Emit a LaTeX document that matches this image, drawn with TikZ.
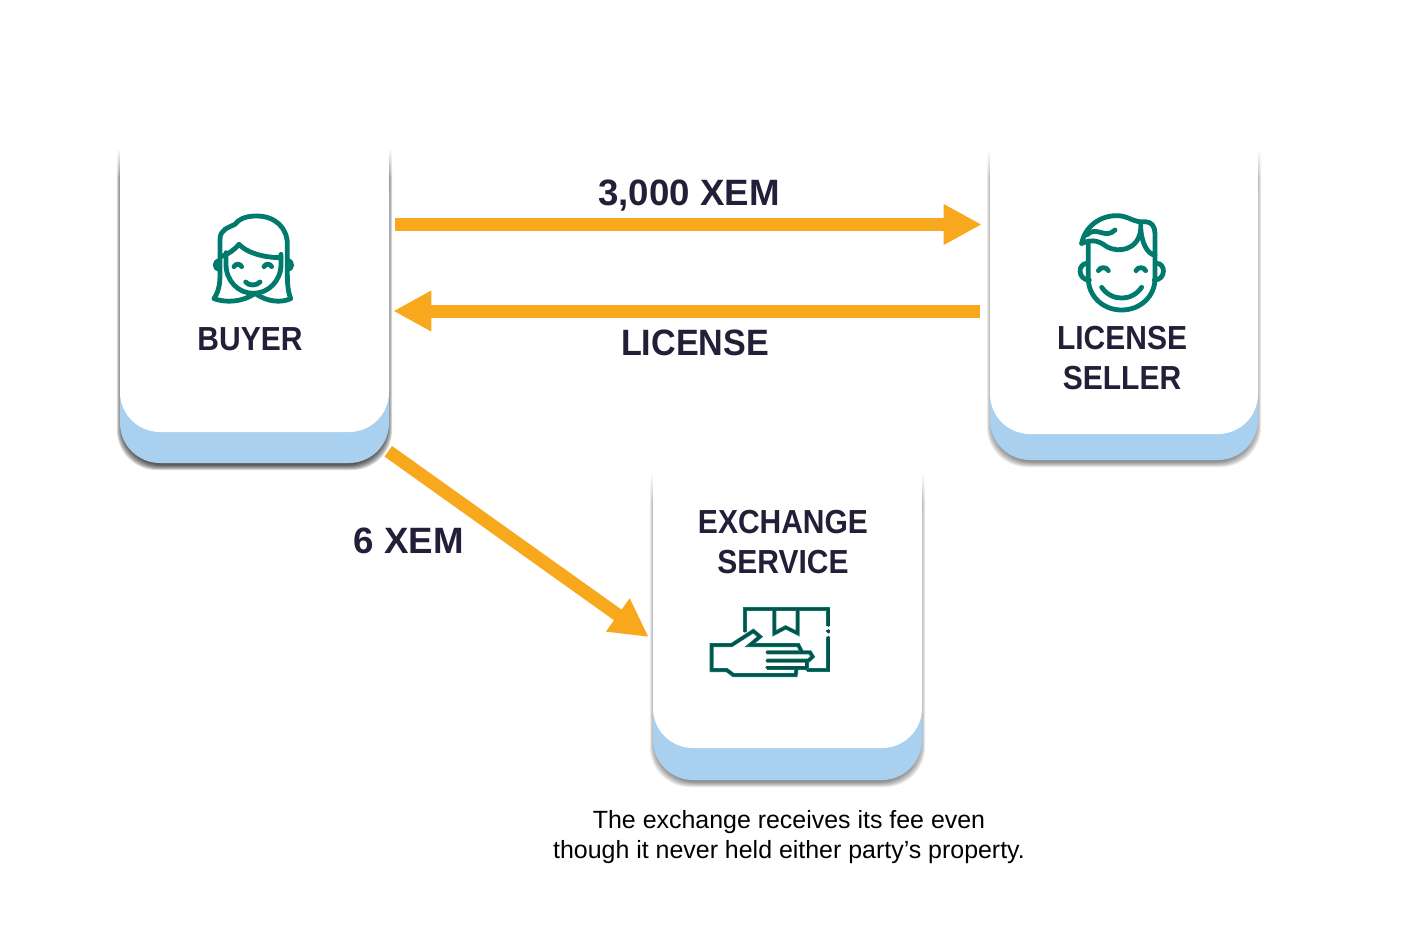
\documentclass[tikz,border=0pt]{standalone}
\usepackage{fontspec}
\setmainfont{Liberation Sans}
\newfontfamily\titlefont[FakeStretch=0.9]{Liberation Sans}
\newfontfamily\licensefont[FakeStretch=0.93]{Liberation Sans}
\usetikzlibrary{arrows.meta,fadings}

\definecolor{inkdark}{HTML}{221F38}
\definecolor{iconteal}{HTML}{007A6C}
\definecolor{icondark}{HTML}{0B4F4A}
\definecolor{flowgold}{HTML}{F7A81C}
\definecolor{cardblue}{HTML}{A9D0EE}

\tikzset{
    x=0.75pt, y=-0.75pt,
    cardbox/.style={fill=white,inner sep=0pt,rounded corners=30pt},
    title/.style={text=inkdark,font=\titlefont\bfseries\fontsize{25}{30}\selectfont,align=center,inner sep=0pt},
    flowlabel/.style={text=inkdark,font=\bfseries\fontsize{27.5}{33}\selectfont,inner sep=0pt},
    flowarrow/.style={flowgold,line width=9.75pt,-{Triangle[length=28.5pt,width=28.5pt]}},
    iconline/.style={iconteal,line width=3.6pt,line cap=round,line join=round},
    boxline/.style={icondark,line width=1.8pt,line cap=round,line join=round,
        preaction={draw,iconteal,line width=3pt}},
}

\begin{document}
\begin{tikzpicture}
\useasboundingbox (0,0) rectangle (1402,939);

% cards
\foreach \cardname/\xa/\xb/\ya/\yb/\yc/\shade in {
    buyer/120/389/150/432/463/0.16,
    seller/990/1258/150/434/460/0.09,
    exchange/653/922/474/748/780/0.09} {
    \foreach \w in {1,2,...,6} {
        \fill[black,opacity=\shade,rounded corners=30pt]
            (\xa-\w+3,\ya) -- (\xa-\w+3,\yc+\w+1) -- (\xb+\w-3,\yc+\w+1) -- (\xb+\w-3,\ya);
    }
    \fill[cardblue,rounded corners=30pt] (\xa,\ya) -- (\xa,\yc) -- (\xb,\yc) -- (\xb,\ya);
    \node[cardbox,minimum width={(\xb-\xa)*0.75pt},minimum height={(\yb-\ya)*0.75pt}]
        (\cardname) at ({(\xa+\xb)/2},{(\ya+\yb)/2}) {};
    \fill[white] (\xa,\ya) rectangle (\xb,\ya+50);
    \fill[white,path fading=south] (\xa-12,\ya-2) rectangle (\xb+12,\ya+28);
}

% labels
\node[title] (buyertext) at (250,339) {BUYER};
\node[title] (sellertext) at (1122,358) {LICENSE\\SELLER};
\node[title] (exchangetext) at (783,542) {EXCHANGE\\SERVICE};

% arrows
\coordinate (payfrom) at ([shift={(6,-66.5)}]buyer.east);
\coordinate (payto) at ([shift={(-8,-67.5)}]seller.west);
\coordinate (licensefrom) at ([shift={(-10,19)}]seller.west);
\coordinate (licenseto) at ([shift={(4,20)}]buyer.east);
\coordinate (feefrom) at ([shift={(-1,19)}]buyer.south east);
\coordinate (feeto) at ([shift={(-4,26)}]exchange.west);

\draw[flowarrow] (payfrom) -- (payto);
\draw[flowarrow] (licensefrom) -- (licenseto);
\draw[flowarrow] (feefrom) -- (feeto);

\node[flowlabel] (paylabel) at (689,196) {3,000 XEM};
\node[flowlabel,font=\licensefont\bfseries\fontsize{27.5}{33}\selectfont] (licenselabel) at (695,343) {LICENSE};
\node[flowlabel] (feelabel) at (409,541) {6 XEM};

\node[align=center,inner sep=0pt,font=\fontsize{18.7}{22.5}\selectfont] (notetext) at (789,837)
    {The exchange receives its fee even\\though it never held either party’s property.};

% buyer icon
\begin{scope}[shift={(200,206)},scale=1/3]
\draw[iconline] (42,278) .. controls (60,250) and (60,225) .. (60,195) -- (60,100)
    .. controls (60,70) and (85,65) .. (105,55) .. controls (120,35) and (145,30) .. (170,30)
    .. controls (225,30) and (262,65) .. (262,115) -- (262,195)
    .. controls (262,225) and (262,250) .. (272,278)
    .. controls (245,290) and (205,290) .. (165,262)
    .. controls (125,290) and (75,290) .. (42,278);
\draw[iconline] (78,140) -- (78,175) .. controls (78,225) and (115,262) .. (160,262)
    .. controls (205,262) and (243,225) .. (243,175) -- (243,145);
\draw[iconline] (62,152) .. controls (85,145) and (105,130) .. (117,115)
    .. controls (140,140) and (190,155) .. (243,155);
\draw[iconline] (58,163) .. controls (42,165) and (42,190) .. (58,190);
\draw[iconline] (264,163) .. controls (278,165) and (278,190) .. (264,190);
\draw[iconline] (102,182) .. controls (107,172) and (120,172) .. (125,182);
\draw[iconline] (192,182) .. controls (197,172) and (210,172) .. (215,182);
\draw[iconline] (137,228) .. controls (145,240) and (170,240) .. (180,228);
\end{scope}

% seller icon
\begin{scope}[shift={(1050,200)},scale=1/3]
\draw[iconline] (95,130) .. controls (105,80) and (150,45) .. (205,47)
    .. controls (235,48) and (255,70) .. (285,65)
    .. controls (305,65) and (315,80) .. (315,100) -- (315,165)
    .. controls (295,165) and (272,130) .. (272,75);
\draw[iconline] (95,130) .. controls (130,115) and (150,125) .. (170,140)
    .. controls (205,160) and (265,150) .. (272,90);
\draw[iconline] (110,105) .. controls (140,75) and (165,120) .. (195,90);
\draw[iconline] (115,130) -- (115,235) .. controls (115,290) and (160,330) .. (215,330)
    .. controls (270,330) and (315,290) .. (315,235) -- (315,165);
\draw[iconline] (112,190) .. controls (82,190) and (82,240) .. (118,240);
\draw[iconline] (320,190) .. controls (348,190) and (348,240) .. (313,240);
\draw[iconline] (145,212) .. controls (150,200) and (170,200) .. (175,212);
\draw[iconline] (258,212) .. controls (263,200) and (282,200) .. (287,212);
\draw[iconline] (155,262) .. controls (185,305) and (245,305) .. (275,262);
\end{scope}

% exchange icon
\begin{scope}[shift={(695,595)},scale=1/3]
\draw[boxline] (150,110) -- (150,42) -- (400,42) -- (400,92);
\draw[boxline] (400,106) -- (400,112);
\draw[boxline] (400,126) -- (400,225) -- (335,225);
\draw[boxline] (238,42) -- (238,115) -- (272,97) -- (308,115) -- (308,42);
\draw[boxline] (215,172) -- (345,172) -- (353,185) -- (340,197) -- (215,197);
\draw[boxline] (335,197) -- (335,218) -- (215,218);
\draw[boxline] (305,218) -- (302,240) -- (115,240) -- (95,225) -- (50,225) -- (50,150)
    -- (110,150) -- (175,108) -- (195,125) -- (165,150) -- (310,150) -- (320,170);
\end{scope}
\end{tikzpicture}
\end{document}
